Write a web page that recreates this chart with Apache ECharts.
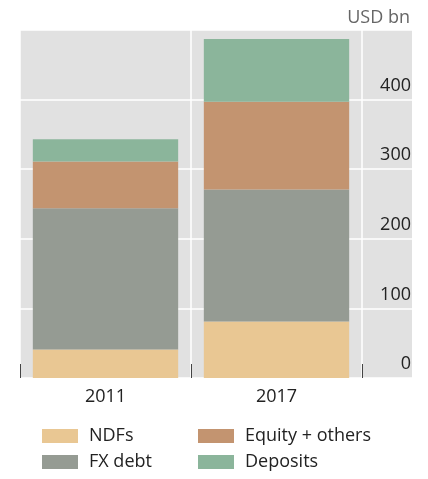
<!DOCTYPE html>
<html>
<head>
<meta charset="utf-8">
<script src="https://cdn.jsdelivr.net/npm/echarts@6/dist/echarts.min.js"></script>
<style>
  html, body { margin: 0; padding: 0; background: #fff; }
  #chart { width: 428px; height: 479px; }
</style>
</head>
<body>
<div id="chart"></div>
<script>
// years on the category axis
var years = ["2011", "2017"];
// stacked components, USD bn
var ndfs = [41, 81];
var fxDebt = [203, 190];
var equityOthers = [67, 126];
var deposits = [32, 90];
var yTicks = [0, 100, 200, 300, 400];

var FONT = "Open Sans";
var chart = echarts.init(document.getElementById("chart"));

function stack(name, data, color) {
  return {
    name: name,
    type: "bar",
    stack: "total",
    xAxisIndex: 0,
    yAxisIndex: 0,
    barCategoryGap: "15%",
    itemStyle: { color: color },
    data: data
  };
}

// one legend per entry so the two columns line up
function legendItem(left, top, name) {
  return {
    left: left,
    top: top,
    padding: 0,
    itemWidth: 36,
    itemHeight: 14,
    icon: "rect",
    data: [name],
    textStyle: { fontSize: 18, color: "#222", padding: [0, 0, 0, 6] }
  };
}

chart.setOption({
  animation: false,
  textStyle: { fontFamily: FONT },
  graphic: [
    {
      type: "text",
      right: 18,
      top: 9,
      style: { text: "USD bn", fontFamily: FONT, fontSize: 18, fill: "#666" }
    }
  ],
  grid: [
    { left: 20, right: 66, top: 30, bottom: 101 },
    { left: 20, right: 16, top: 30, bottom: 101, show: true, backgroundColor: "#e1e1e1", borderWidth: 0, z: -1 }
  ],
  xAxis: [
    {
      type: "category",
      gridIndex: 0,
      data: years,
      axisLine: { show: false },
      axisTick: { show: true, inside: true, length: 14, lineStyle: { color: "#444", width: 1 } },
      splitLine: { show: true, lineStyle: { color: "#fff", width: 1.5 } },
      axisLabel: { color: "#222", fontSize: 18, margin: 10 }
    },
    { type: "value", gridIndex: 1, min: 0, max: 1, show: false }
  ],
  yAxis: [
    { type: "value", gridIndex: 0, min: 0, max: 500, show: false },
    {
      type: "value",
      gridIndex: 1,
      position: "right",
      min: 0,
      max: 500,
      interval: 100,
      axisLine: { show: false },
      axisTick: { show: false },
      splitLine: { show: true, lineStyle: { color: "#fff", width: 1.5 } },
      axisLabel: {
        inside: true,
        margin: 1,
        verticalAlign: "bottom",
        padding: [0, 0, 5, 0],
        color: "#222",
        fontSize: 18,
        formatter: function (v) { return yTicks.indexOf(v) >= 0 ? String(v) : ""; }
      }
    }
  ],
  legend: [
    legendItem(42, 427, "NDFs"),
    legendItem(198, 427, "Equity + others"),
    legendItem(42, 453, "FX debt"),
    legendItem(198, 453, "Deposits")
  ],
  series: [
    stack("NDFs", ndfs, "#e9c793"),
    stack("FX debt", fxDebt, "#959b93"),
    stack("Equity + others", equityOthers, "#c39470"),
    stack("Deposits", deposits, "#8bb59b")
  ]
});
</script>
</body>
</html>
